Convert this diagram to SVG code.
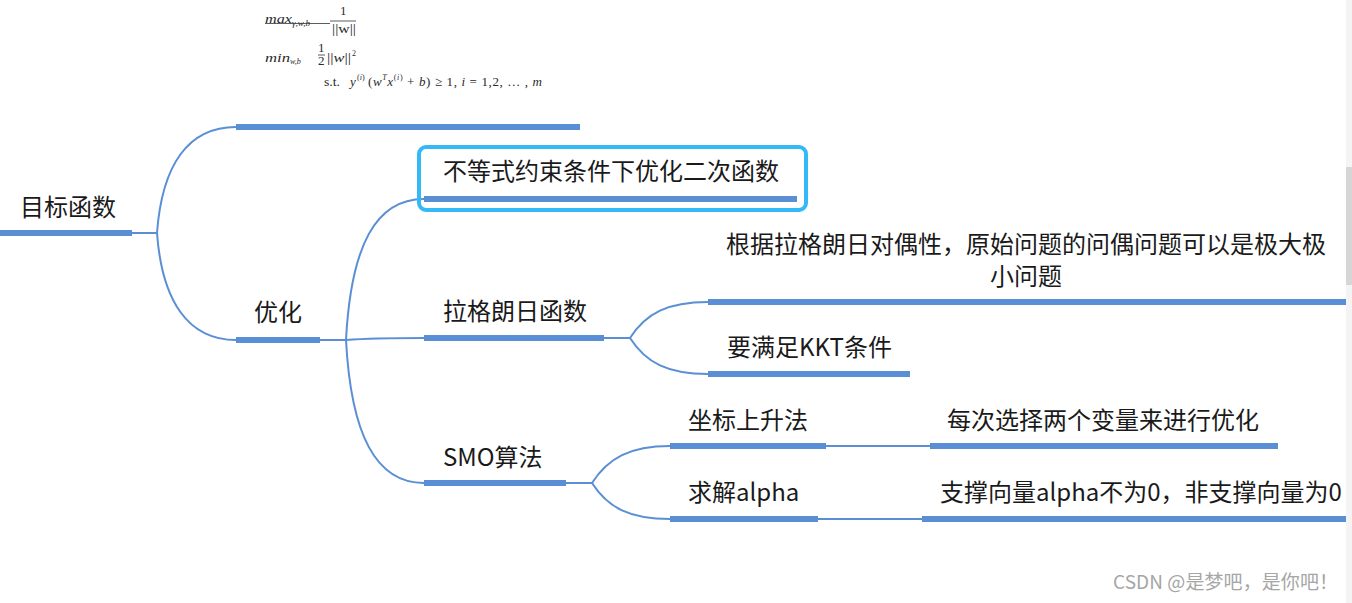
<svg xmlns="http://www.w3.org/2000/svg" width="1352" height="603" viewBox="0 0 1352 603">
<style>
.t{font-family:"Noto Sans CJK SC","Noto Sans",sans-serif;font-size:24px;fill:#1a1a1a}
.bar{stroke:#5a8fd5;stroke-width:6;fill:none}
.c{stroke:#5a8fd5;stroke-width:2;fill:none}
.m{font-family:"Liberation Serif",serif;font-size:13px;fill:#2a2a2a}
.s{font-family:"Liberation Serif",serif;font-size:8px;fill:#2a2a2a}
.i{font-style:italic}
.wm{font-family:"Noto Sans CJK SC",sans-serif;font-size:19px;fill:#a6a6a6}
</style>
<rect width="1352" height="603" fill="#ffffff"/>
<g id="connectors">
<path class="c" d="M132,233 H157"/>
<path class="c" d="M157,233 C162,165 188,127 236,127"/>
<path class="c" d="M157,233 C162,301 188,340 236,340"/>
<path class="c" d="M320,340 H346"/>
<path class="c" d="M346,340 C351,245 376,199 424,199"/>
<path class="c" d="M346,340 C372,338 398,338 424,338"/>
<path class="c" d="M346,340 C351,435 376,483 424,483"/>
<path class="c" d="M604,338 H630"/>
<path class="c" d="M630,338 C646,313 668,302 708,302"/>
<path class="c" d="M630,338 C646,363 668,374 708,374"/>
<path class="c" d="M566,483 H592"/>
<path class="c" d="M592,483 C608,458 630,446 670,446"/>
<path class="c" d="M592,483 C608,508 630,519 670,519"/>
<path class="c" d="M826,446 H930"/>
<path class="c" d="M818,519 H922"/>
</g>
<g id="n-root">
<text class="t" x="20" y="216">目标函数</text>
<path class="bar" d="M0,233 H132"/>
</g>
<g id="n-formula">
<path class="bar" d="M236,127 H580"/>
<text class="m i" x="265" y="23" textLength="27" lengthAdjust="spacingAndGlyphs">max</text>
<text class="s i" x="292" y="26" textLength="18" lengthAdjust="spacingAndGlyphs">γ,w,b</text>
<path d="M265,23.5 H330" stroke="#333" stroke-width="0.8"/>
<path d="M330,21 H356" stroke="#333" stroke-width="0.8"/>
<text class="m" x="340" y="15">1</text>
<text class="m" x="332" y="33" textLength="24" lengthAdjust="spacingAndGlyphs">||w||</text>
<text class="m i" x="265" y="62" textLength="25" lengthAdjust="spacingAndGlyphs">min</text>
<text class="s i" x="290" y="64">w,b</text>
<text class="m" x="318" y="52">1</text>
<path d="M318,55 H325" stroke="#333" stroke-width="0.8"/>
<text class="m" x="318" y="65">2</text>
<text class="m" x="327" y="62" textLength="24" lengthAdjust="spacingAndGlyphs">||<tspan class="i">w</tspan>||</text>
<text class="s" x="352" y="56">2</text>
<text class="m" x="324" y="86" textLength="16" lengthAdjust="spacingAndGlyphs">s.t.</text>
<text class="m i" x="350" y="86">y</text>
<text class="s" x="357" y="80">(<tspan class="i">i</tspan>)</text>
<text class="m" x="368" y="86" textLength="174" lengthAdjust="spacing">(<tspan class="i">w</tspan><tspan font-size="8" class="i" dy="-6">T</tspan><tspan class="i" dy="6">x</tspan><tspan font-size="8" dy="-6">(<tspan class="i">i</tspan>)</tspan><tspan dy="6"> + </tspan><tspan class="i">b</tspan>) ≥ 1,  <tspan class="i">i</tspan> = 1,2, … , <tspan class="i">m</tspan></text>
</g>
<g id="n-youhua">
<text class="t" x="254" y="321">优化</text>
<path class="bar" d="M236,340 H320"/>
</g>
<g id="n-budengshi">
<rect x="419" y="147" width="387" height="63" rx="7" fill="none" stroke="#33b9f7" stroke-width="4"/>
<text class="t" x="443" y="180">不等式约束条件下优化二次函数</text>
<path class="bar" d="M424,199 H797"/>
</g>
<g id="n-lagrange">
<text class="t" x="443" y="320">拉格朗日函数</text>
<path class="bar" d="M424,338 H604"/>
</g>
<g id="n-duality">
<text class="t" x="1026" y="253" text-anchor="middle">根据拉格朗日对偶性，原始问题的问偶问题可以是极大极</text>
<text class="t" x="1026" y="285" text-anchor="middle">小问题</text>
<path class="bar" d="M708,302 H1346"/>
</g>
<g id="n-kkt">
<text class="t" x="727" y="356">要满足KKT条件</text>
<path class="bar" d="M708,374 H910"/>
</g>
<g id="n-smo">
<text class="t" x="443" y="466">SMO算法</text>
<path class="bar" d="M424,483 H566"/>
</g>
<g id="n-coord">
<text class="t" x="688" y="429">坐标上升法</text>
<path class="bar" d="M670,446 H826"/>
</g>
<g id="n-twovar">
<text class="t" x="947" y="429">每次选择两个变量来进行优化</text>
<path class="bar" d="M930,446 H1278"/>
</g>
<g id="n-alpha">
<text class="t" x="688" y="501">求解alpha</text>
<path class="bar" d="M670,519 H818"/>
</g>
<g id="n-support">
<text class="t" x="940" y="501">支撑向量alpha不为0，非支撑向量为0</text>
<path class="bar" d="M922,519 H1346"/>
</g>
<text class="wm" x="1113" y="589" textLength="225" lengthAdjust="spacing">CSDN @是梦吧，是你吧！</text>
<rect x="1346" y="0" width="6" height="603" fill="#f4f4f4"/>
<rect x="1346" y="167" width="6" height="118" fill="#d6d6d6"/>
</svg>
